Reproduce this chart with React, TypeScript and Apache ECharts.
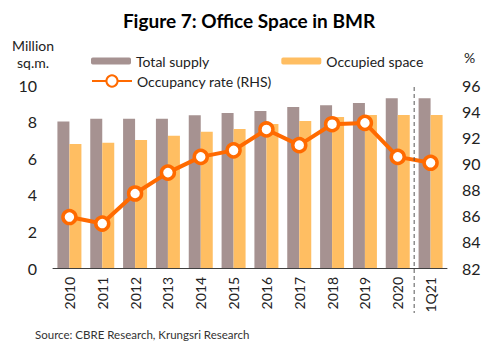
import React, { useEffect, useRef } from "react";
import * as echarts from "echarts";

const categories = ["2010", "2011", "2012", "2013", "2014", "2015", "2016", "2017", "2018", "2019", "2020", "1Q21"];
const totalSupply = [8.0, 8.15, 8.15, 8.15, 8.35, 8.47, 8.58, 8.8, 8.9, 9.02, 9.28, 9.28];
const occupiedSpace = [6.78, 6.84, 7.0, 7.22, 7.44, 7.6, 7.87, 8.03, 8.25, 8.36, 8.36, 8.36];
const occupancyRate = [85.9, 85.4, 87.7, 89.3, 90.5, 91.0, 92.6, 91.4, 93.0, 93.1, 90.5, 90.05];
const leftTicks = { min: 0, max: 10, interval: 2 };
const rightTicks = { min: 82, max: 96, interval: 2 };

const FONT = "Lato, 'Open Sans', sans-serif";

export default function App() {
  const ref = useRef<HTMLDivElement>(null);
  useEffect(() => {
    if (!ref.current) return;
    const chart = echarts.init(ref.current, null, { renderer: "svg" });
    chart.setOption({
      animation: false,
      textStyle: { fontFamily: FONT },
      title: {
        text: "Figure 7: Office Space in BMR",
        left: "center",
        top: 6,
        textStyle: { fontFamily: FONT, fontSize: 19, fontWeight: "bold", color: "#000" },
      },
      legend: [
        {
          data: ["Total supply", "Occupied space"],
          left: 86,
          top: 49,
          itemWidth: 40,
          itemHeight: 7,
          itemGap: 72,
          textStyle: { fontFamily: FONT, fontSize: 14, color: "#222" },
        },
        {
          data: ["Occupancy rate (RHS)"],
          left: 86,
          top: 69,
          itemWidth: 40,
          itemHeight: 14,
          textStyle: { fontFamily: FONT, fontSize: 14, color: "#222" },
        },
      ],
      grid: { left: 53, right: 51, top: 85, bottom: 83, containLabel: false },
      xAxis: {
        type: "category",
        data: categories,
        axisLine: { lineStyle: { color: "#404040", width: 1 } },
        axisTick: { show: false },
        axisLabel: { rotate: 90, fontSize: 14, margin: 9, color: "#222", fontFamily: FONT },
      },
      yAxis: [
        {
          type: "value",
          ...leftTicks,
          splitLine: { show: false },
          axisLine: { show: false },
          axisTick: { show: false },
          axisLabel: { fontSize: 16, margin: 16, color: "#222", fontFamily: FONT },
        },
        {
          type: "value",
          ...rightTicks,
          splitLine: { show: false },
          axisLine: { show: false },
          axisTick: { show: false },
          axisLabel: { fontSize: 16, margin: 15, color: "#222", fontFamily: FONT },
        },
      ],
      series: [
        {
          name: "Total supply",
          type: "bar",
          data: totalSupply,
          barWidth: 12,
          barGap: "0%",
          itemStyle: { color: "#A69291" },
        },
        {
          name: "Occupied space",
          type: "bar",
          data: occupiedSpace,
          barWidth: 12,
          barGap: "0%",
          itemStyle: { color: "#FFBE62" },
        },
        {
          name: "Occupancy rate (RHS)",
          type: "line",
          yAxisIndex: 1,
          data: occupancyRate,
          symbol: "circle",
          symbolSize: 13,
          lineStyle: { color: "#FF6A00", width: 4 },
          itemStyle: { color: "#fff", borderColor: "#FF6A00", borderWidth: 3.5 },
          z: 5,
        },
      ],
      graphic: [
        {
          type: "text",
          x: 33,
          y: 37,
          style: {
            text: "Million\nsq.m.",
            align: "center",
            fontFamily: FONT,
            fontSize: 14,
            lineHeight: 17,
            fill: "#222",
          },
        },
        {
          type: "text",
          left: 464,
          top: 50,
          style: { text: "%", fontFamily: FONT, fontSize: 14, fill: "#222" },
        },
        {
          type: "text",
          left: 35,
          top: 328,
          style: {
            text: "Source: CBRE Research, Krungsri Research",
            fontFamily: FONT,
            fontSize: 11.5,
            fill: "#333",
          },
        },
      ],
    });
    const xa = chart.convertToPixel({ xAxisIndex: 0 }, "2020") as number;
    const xb = chart.convertToPixel({ xAxisIndex: 0 }, "1Q21") as number;
    const yTop = chart.convertToPixel({ yAxisIndex: 1 }, 96) as number;
    const xm = (xa + xb) / 2;
    chart.setOption({
      graphic: [
        {
          id: "divider",
          type: "line",
          shape: { x1: xm, y1: yTop + 2, x2: xm, y2: yTop + 228 },
          style: { stroke: "#555", lineWidth: 1, lineDash: [4, 3] },
          z: 10,
        },
      ],
    });
    return () => chart.dispose();
  }, []);
  return <div ref={ref} style={{ width: 498, height: 351, margin: -8 }} />;
}
